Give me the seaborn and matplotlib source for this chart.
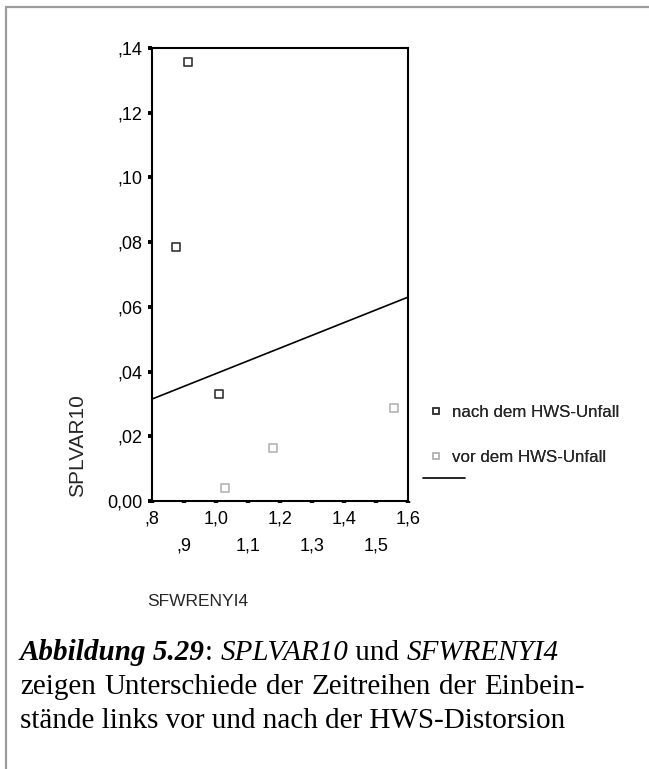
import matplotlib
matplotlib.use("Agg")
import matplotlib.pyplot as plt
from matplotlib.lines import Line2D
import seaborn as sns
import pandas as pd

# ---- data ----
nach_x = [0.912, 0.875, 1.009]
nach_y = [0.1357, 0.0785, 0.0331]
vor_x = [1.028, 1.178, 1.556]
vor_y = [0.0040, 0.0164, 0.0287]
group_labels = ["nach dem HWS-Unfall", "vor dem HWS-Unfall"]
fit_x = [0.8, 1.6]
fit_y = [0.0315, 0.0630]
x_ticks = [0.8, 0.9, 1.0, 1.1, 1.2, 1.3, 1.4, 1.5, 1.6]
x_tick_labels = [",8", ",9", "1,0", "1,1", "1,2", "1,3", "1,4", "1,5", "1,6"]
y_ticks = [0.00, 0.02, 0.04, 0.06, 0.08, 0.10, 0.12, 0.14]
y_tick_labels = ["0,00", ",02", ",04", ",06", ",08", ",10", ",12", ",14"]
x_label = "SFWRENYI4"
y_label = "SPLVAR10"

sns.set_style("white")
plt.rcParams["font.family"] = ["Liberation Sans", "DejaVu Sans"]

W, H = 649, 769
fig = plt.figure(figsize=(W / 100, H / 100), dpi=100)
fig.patch.set_facecolor("white")

ax = fig.add_axes([152 / W, 1 - 501 / H, (408 - 152) / W, (501 - 48) / H])

df = pd.DataFrame({
    "x": nach_x + vor_x,
    "y": nach_y + vor_y,
    "grp": [group_labels[0]] * len(nach_x) + [group_labels[1]] * len(vor_x),
})
pal = {group_labels[0]: "#333333", group_labels[1]: "#b4b4b4"}
sns.scatterplot(data=df, x="x", y="y", hue="grp", palette=pal, marker="s",
                s=30, linewidth=1.0, legend=False, ax=ax, zorder=3)
for coll in ax.collections:
    fc = coll.get_facecolors()
    coll.set_edgecolors(fc)
    coll.set_facecolors("none")
    coll.set_linewidth(1.2)

sns.lineplot(x=fit_x, y=fit_y, color="black", linewidth=1.2, ax=ax)

ax.set_xlim(0.8, 1.6)
ax.set_ylim(0.0, 0.14)
for s in ax.spines.values():
    s.set_linewidth(1.5)
    s.set_color("black")
    s.set_visible(True)

ax.set_xticks(x_ticks)
ax.set_xticklabels(x_tick_labels, fontsize=13)
ax.set_yticks(y_ticks)
ax.set_yticklabels(y_tick_labels, fontsize=13)
ax.tick_params(axis="y", left=True, direction="out", length=2.8, width=2.8, pad=4,
               color="black", labelcolor="black")
ax.tick_params(axis="x", bottom=True, direction="out", length=1.5, width=3.2, pad=5,
               color="black", labelcolor="black")
for i, t in enumerate(ax.xaxis.get_major_ticks()):
    if i % 2 == 1:
        t.set_pad(25)
ax.set_xlabel("")
ax.set_ylabel("")

fig.text(78 / W, 1 - 446 / H, y_label, rotation=90, ha="center", va="center", fontsize=15)
fig.text(198 / W, 1 - 602 / H, x_label, ha="center", va="center", fontsize=12.5)

# legends
h1 = [Line2D([], [], marker="s", linestyle="none", markersize=5, markerfacecolor="none",
             markeredgecolor=pal[g], markeredgewidth=1.1) for g in group_labels]
leg1 = ax.legend(h1, group_labels, loc="upper left", bbox_to_anchor=(431 / W, 1 - 405 / H),
                 bbox_transform=fig.transFigure, frameon=False, fontsize=12.2,
                 handlelength=0.6, handletextpad=0.65, labelspacing=1.75, borderpad=0,
                 borderaxespad=0)
ax.add_artist(leg1)
h2 = [Line2D([], [], color="black", linewidth=1.2)]
leg2 = fig.legend(h2, [""], loc="center left", bbox_to_anchor=(423 / W, 1 - 479 / H),
                  frameon=False, fontsize=12, handlelength=2.5, handletextpad=0,
                  borderpad=0, borderaxespad=0)

# frame border
fig.add_artist(Line2D([6 / W, 1.0], [1 - 7 / H, 1 - 7 / H], transform=fig.transFigure,
                      color="#9c9c9c", linewidth=1.6))
fig.add_artist(Line2D([6 / W, 6 / W], [0.0, 1 - 7 / H], transform=fig.transFigure,
                      color="#9c9c9c", linewidth=1.6))

# caption
serif = ["Liberation Serif", "DejaVu Serif"]
cap_size = 21
renderer = fig.canvas.get_renderer()

def run(x0, y_px, parts):
    x = x0
    for txt, style, weight in parts:
        t = fig.text(x / W, 1 - y_px / H, txt, family=serif, fontsize=cap_size,
                     style=style, weight=weight, ha="left", va="baseline", color="black")
        bb = t.get_window_extent(renderer=renderer)
        x = bb.x1
    return x

def justified(x0, x1, y_px, line):
    words = line.split(" ")
    arts = []
    total = 0.0
    for w in words:
        t = fig.text(0, 1 - y_px / H, w, family=serif, fontsize=cap_size,
                     ha="left", va="baseline", color="black")
        bb = t.get_window_extent(renderer=renderer)
        arts.append((t, bb.width))
        total += bb.width
    gap = (x1 - x0 - total) / (len(words) - 1)
    x = x0
    for t, wdt in arts:
        t.set_x(x / W)
        x += wdt + gap

run(20, 660, [("Abbildung 5.29", "italic", "bold"), (": ", "normal", "normal"),
              ("SPLVAR10", "italic", "normal"), (" und ", "normal", "normal"),
              ("SFWRENYI4", "italic", "normal")])
justified(20, 585, 694, "zeigen Unterschiede der Zeitreihen der Einbein-")
run(20, 728, [("stände links vor und nach der HWS-Distorsion", "normal", "normal")])

fig.savefig("out.png", dpi=100, facecolor="white")
